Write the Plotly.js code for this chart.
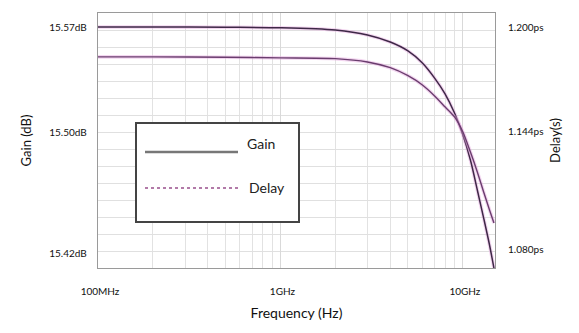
<!DOCTYPE html>
<html>
<head>
<meta charset="utf-8">
<script src="https://cdn.plot.ly/plotly-3.0.1.min.js"></script>
<style>html,body{margin:0;padding:0;background:#fff}#chart{width:579px;height:333px}</style>
</head>
<body>
<div id="chart"></div>
<script>
// ---- data ----
const freqHz = [1e8, 2e8, 5e8, 1e9, 2e9, 3e9, 4e9, 5e9, 6e9, 7e9, 8e9, 9e9, 1e10, 1.1e10, 1.2e10, 1.3e10, 1.4e10, 1.48e10];
const gainDb = [15.5700, 15.5700, 15.5698, 15.5695, 15.5680, 15.5647, 15.5600, 15.5541, 15.5461, 15.5361, 15.5255, 15.5129, 15.4984, 15.4817, 15.4618, 15.4432, 15.4253, 15.4100];
const delayPs = [1.1839, 1.1839, 1.1837, 1.1834, 1.1830, 1.1812, 1.1781, 1.1738, 1.1688, 1.1629, 1.1569, 1.1516, 1.1435, 1.1327, 1.1220, 1.1112, 1.1015, 1.0945];

const xTickVals = [1e8, 1e9, 1e10];
const xTickText = ['100MHz', '1GHz', '10GHz'];
const gainTickVals = [15.42, 15.50, 15.57];
const gainTickText = ['15.42dB', '15.50dB', '15.57dB'];
const delayTickVals = [1.080, 1.144, 1.200];
const delayTickText = ['1.080ps', '1.144ps', '1.200ps'];
const legendNames = ['Gain', 'Delay'];

// ---- layout helpers ----
const gainRange = [15.41005, 15.57929];
const delayRange = [1.07029, 1.20754];
const minorX = [];
for (let d = 1e8; d < 1.5e10; d *= 10) {
  for (let k = 2; k <= 9; k++) { if (d * k < 1.5e10) minorX.push(d * k); }
}
const F = 'Lato, "Open Sans", sans-serif';
const halo = {color: 'rgba(228,165,222,0.45)', width: 3.6, shape: 'spline', smoothing: 0.8};

const traces = [
  {x: freqHz, y: gainDb, yaxis: 'y', mode: 'lines', line: halo, hoverinfo: 'skip', showlegend: false},
  {x: freqHz, y: delayPs, yaxis: 'y2', mode: 'lines', line: halo, hoverinfo: 'skip', showlegend: false},
  {x: freqHz, y: gainDb, yaxis: 'y', mode: 'lines', name: legendNames[0], line: {color: '#3e2847', width: 1.5, shape: 'spline', smoothing: 0.8}, showlegend: false},
  {x: freqHz, y: delayPs, yaxis: 'y2', mode: 'lines', name: legendNames[1], line: {color: '#6a3d6e', width: 1.4, shape: 'spline', smoothing: 0.8}, showlegend: false}
];

const px = v => (v - 98) / 397;
const py = v => (268 - v) / 255;

const layout = {
  width: 579, height: 333,
  margin: {l: 98, r: 84, t: 13, b: 65},
  paper_bgcolor: '#fff', plot_bgcolor: '#fff',
  showlegend: false,
  font: {family: F, color: '#222'},
  xaxis: {
    type: 'log', range: [8, Math.log10(1.5e10)],
    tickmode: 'array', tickvals: xTickVals, ticktext: xTickText,
    tickfont: {family: F, size: 10, color: '#111'},
    ticklabelstandoff: 14, ticklabelshift: 2,
    showgrid: true, gridcolor: '#d9d9d9', gridwidth: 1,
    minor: {tickmode: 'array', tickvals: minorX, showgrid: true, gridcolor: '#e2e2e2', gridwidth: 1, ticks: ''},
    showline: true, linecolor: '#9a9a9a', linewidth: 1.2, mirror: true,
    zeroline: false,
    title: {text: 'Frequency (Hz)', font: {family: F, size: 14, color: '#111'}, standoff: 12}
  },
  yaxis: {
    range: gainRange,
    tickmode: 'array', tickvals: gainTickVals, ticktext: gainTickText,
    tickfont: {family: F, size: 10, color: '#111'},
    ticklabelstandoff: 8,
    showgrid: false,
    minor: {tickmode: 'linear', tick0: gainRange[0], dtick: (gainRange[1] - gainRange[0]) / 15, showgrid: true, gridcolor: '#e0e0e0', gridwidth: 1, ticks: ''},
    showline: true, linecolor: '#9a9a9a', linewidth: 1.2, mirror: true,
    zeroline: false,
    title: {text: 'Gain (dB)', font: {family: F, size: 13, color: '#111'}, standoff: 14}
  },
  yaxis2: {
    overlaying: 'y', side: 'right',
    range: delayRange,
    tickmode: 'array', tickvals: delayTickVals, ticktext: delayTickText,
    tickfont: {family: F, size: 10, color: '#111'},
    ticklabelstandoff: 12,
    showgrid: false, zeroline: false, showline: false,
    title: {text: 'Delay(s)', font: {family: F, size: 13, color: '#111'}, standoff: 8}
  },
  shapes: [
    {type: 'rect', xref: 'paper', yref: 'paper', x0: px(136), x1: px(299), y0: py(222), y1: py(123),
     fillcolor: '#fff', line: {color: '#444', width: 2}, layer: 'above'},
    {type: 'line', xref: 'paper', yref: 'paper', x0: px(145), x1: px(238), y0: py(152), y1: py(152),
     line: {color: '#777', width: 2.5}, layer: 'above'},
    {type: 'line', xref: 'paper', yref: 'paper', x0: px(145), x1: px(240), y0: py(188), y1: py(188),
     line: {color: '#b27aa8', width: 2, dash: 'dot'}, layer: 'above'}
  ],
  annotations: [
    {xref: 'paper', yref: 'paper', x: px(245), y: py(143), xanchor: 'left', yanchor: 'middle', showarrow: false,
     text: legendNames[0], font: {family: F, size: 14, color: '#222'}},
    {xref: 'paper', yref: 'paper', x: px(247), y: py(187), xanchor: 'left', yanchor: 'middle', showarrow: false,
     text: legendNames[1], font: {family: F, size: 14, color: '#222'}}
  ]
};

Plotly.newPlot('chart', traces, layout, {displayModeBar: false, staticPlot: true});
</script>
</body>
</html>
